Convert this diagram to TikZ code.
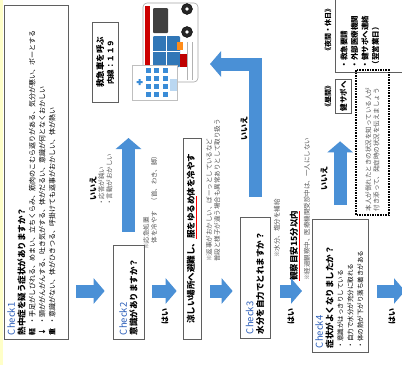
\documentclass[tikz,border=0pt]{standalone}
\usepackage{fontspec}
\setmainfont{Noto Sans CJK JP}
\usetikzlibrary{arrows.meta,positioning,calc}

\definecolor{flowblue}{RGB}{74,144,214}
\definecolor{checkblue}{RGB}{46,96,186}
\definecolor{notegray}{RGB}{85,85,85}
\definecolor{edgegray}{RGB}{95,95,95}
\definecolor{stripyellow}{RGB}{255,255,200}
\definecolor{winblue}{RGB}{58,140,215}

\tikzset{
    chkbox/.style={draw=edgegray, line width=0.7pt, fill=white, rotate=90, inner xsep=4pt, inner ysep=3pt, align=left, font=\fontsize{8.5}{10}\selectfont},
    ansbox/.style={draw=edgegray, line width=0.7pt, fill=white, rotate=90, inner sep=2pt, align=center, font=\bfseries\fontsize{8.5}{10}\selectfont},
    yesno/.style={rotate=90, inner sep=0pt, font=\bfseries\fontsize{8}{9}\selectfont},
    memo/.style={rotate=90, inner sep=0pt, align=left, text=notegray, font=\fontsize{6.5}{8}\selectfont},
    flowarrow/.style={draw=flowblue, line width=13pt, -{Triangle[width=25pt,length=11pt]}}
}
\newcommand{\chk}[1]{{\color{checkblue}\fontsize{9.5}{10}\selectfont Check#1}}
\newcommand{\redline}[1]{{\color{red}\underline{\color{black}#1}}}
\newcommand{\linefont}{\fontsize{7}{9}\selectfont}
\newcommand{\memofont}{\fontsize{6.5}{8}\selectfont}

\begin{document}
\begin{tikzpicture}[x=1pt, y=-1pt]
    \useasboundingbox (0,0) rectangle (402,365);
    \fill[white] (0,0) rectangle (402,365);
    \fill[stripyellow] (0,0) rectangle (3,365);

    % row of the down arrows
    \coordinate (row) at (0,291);

    % checks and answers
    \node[chkbox, anchor=north, text width=326pt, text depth=50pt] (check1) at (4,172) {\chk{1}\\ \textbf{熱中症を疑う症状がありますか？}\\
        {\linefont\textbf{軽}\enspace・手足がしびれる、めまい、立ちくらみ、筋肉のこむら返りがある、気分が悪い、ボーとする}\\
        {\linefont\textbf{↓}\enspace・頭ががんがんする、吐き気がする、体がだるい、意識が何となくおかしい}\\
        {\linefont\textbf{重}\enspace・意識がない、体がひきつる、呼掛けても返事がおかしい、体が熱い}};
    \node[chkbox, minimum width=94pt, minimum height=31pt, text width=86pt] (check2) at (128.5,292) {\chk{2}\\ \textbf{意識がありますか？}};
    \node[ansbox, minimum width=80pt, minimum height=26pt] (call) at (105,62) {救急車を呼ぶ\\{\fontsize{7.5}{9}\selectfont 内線：１１９}};
    \node[ansbox, minimum width=201pt, minimum height=18pt] (cool) at (192,238.5) {涼しい場所へ避難し、\redline{服をゆるめ}体を冷やす};
    \node[chkbox, minimum width=121pt, minimum height=30pt, text width=113pt] (check3) at (255,277.5) {\chk{3}\\ \textbf{水分を自力でとれますか？}};
    \node[chkbox, anchor=north, text width=125pt, text depth=42pt] (check4) at (312,285.5) {\chk{4}\\ \textbf{症状がよくなりましたか？}\\
        {\memofont ・意識がはっきりしている}\\
        {\memofont ・自力で水分が充分に取れる}\\
        {\memofont ・体の熱が下がり落ち着きがある}};
    \node[ansbox, minimum width=30pt, minimum height=16pt, font=\bfseries\fontsize{7.5}{9}\selectfont] (kensapo) at (343.5,96) {健サポへ};
    \node[chkbox, anchor=north, inner ysep=5pt, text width=70pt, text depth=58pt, font=\bfseries\fontsize{7.5}{10.5}\selectfont] (night) at (335,33) {・救急要請\\・外部医療機関\\・健サポへ連絡\\（翌営業日）};
    \node[rotate=90, draw, line width=1.4pt, dash pattern=on 1.6pt off 1pt, minimum width=145pt, minimum height=33pt, text width=137pt, align=left, text=notegray, font=\memofont] (witness) at (372.5,142.5) {本人が倒れたときの状況を知っている人が\\付き添って、発症時の状況を伝えましょう};

    % labels and notes
    \node[yesno] (no1) at (93,188) {いいえ};
    \node[memo, anchor=north west] (no1memo) at (98,206) {・応答が鈍い\\・言動がおかしい};
    \node[memo, anchor=north west] (firstaid) at (143,250) {※応急処置\\\quad 体を冷やす\quad（首、わき、脚）};
    \node[yesno] (yes1) at (165,316) {はい};
    \node[memo, anchor=north west] (check3memo) at (206,262) {※返事がおかしい、ぼーっとしているなど\\普段と様子が違う場合も異常ありとして取り扱う};
    \node[yesno] (no2) at (244,128) {いいえ};
    \node[memo, anchor=west] (saltmemo) at (277,258) {※水分、塩分を補給};
    \node[yesno, anchor=west, font=\bfseries\fontsize{8.5}{10}\selectfont] (watch) at (295,281) {\redline{観察目安15分以内}};
    \node[memo, anchor=west] (watchmemo) at (307,281) {※経過観察中、医療機関受診中は、一人にしない};
    \node[yesno] (yes2) at (291,316) {はい};
    \node[yesno] (no3) at (324,178) {いいえ};
    \node[yesno, font=\bfseries\fontsize{7}{8}\selectfont] (daylabel) at (328,96) {《昼間》};
    \node[yesno, font=\bfseries\fontsize{7}{8}\selectfont] (nightlabel) at (328,30) {《夜間・休日》};
    \node[yesno] (yes3) at (392,316) {はい};

    % ambulance
    \draw[black!35, line width=0.6pt, fill=white, rounded corners=4pt] (143,3) rectangle (198,82);
    \fill[red!80!black] (144.5,6) rectangle (150,68);
    \fill[black!75, rounded corners=1pt] (153,8) rectangle (168,33);
    \fill[winblue!85!black, rounded corners=1pt] (153,36) rectangle (180,67);
    \draw[white, line width=0.6pt] (166,36) -- (166,67) (153,51) -- (180,51);
    \fill[orange!90] (177,42) rectangle (183,50);
    \fill[red!75!black] (180,54) rectangle (187,67);
    \draw[black!30, line width=0.5pt] (187,42) -- (187,80) (192,42) -- (192,80);
    \foreach \wy in {9,32}
        \filldraw[black, fill=black!85] (187,\wy) circle (5.5pt);
    \foreach \wy in {9,32}
        \fill[white] (187,\wy) circle (1.8pt);

    % hospital
    \draw[black!25, line width=0.6pt, fill=white] (132,65) rectangle (177,100);
    \fill[winblue] (138.5,79) rectangle (140.5,85) (136.5,81) rectangle (142.5,83);
    \foreach \wx in {148,156.5,165}
        \foreach \wy in {70,78,86,94}
            \fill[winblue] (\wx-2.5,\wy-2.5) rectangle (\wx+2.5,\wy+2.5);
    \fill[winblue!35] (170,79) rectangle (177,91);
    \coordinate (callpt) at (129,138);
    \coordinate (carback) at (199,64);
    \coordinate (next) at (405,291);

    % arrows
    \draw[flowarrow, shorten <=8pt, shorten >=8pt] (check1.south |- row) -- (check2.north |- row);
    \draw[flowarrow, shorten <=13pt] (check2.east) -- (check2.east |- callpt);
    \draw[flowarrow, shorten <=8pt, shorten >=6pt] (check2.south |- row) -- (cool.north |- row);
    \draw[flowarrow, shorten <=9pt, shorten >=7pt] (cool.south |- row) -- (check3.north |- row);
    \draw[flowarrow, shorten <=20pt, shorten >=11pt] (check3.east) |- (carback);
    \draw[flowarrow, shorten <=10pt, shorten >=10pt] (check3.south |- row) -- (check4.north |- row);
    \draw[flowarrow, shorten <=14pt, shorten >=28pt] (check4.east) -- (check4.east |- kensapo.west);
    \draw[flowarrow, shorten <=9pt] (check4.south |- row) -- (next);
\end{tikzpicture}
\end{document}
